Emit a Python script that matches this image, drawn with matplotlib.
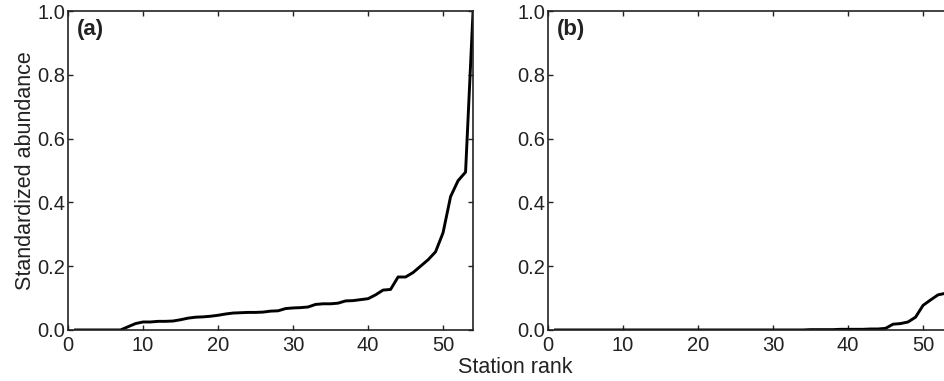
import numpy as np
import matplotlib
matplotlib.use("Agg")
import matplotlib.pyplot as plt

plt.rcParams['font.family'] = ['Liberation Sans', 'DejaVu Sans']

# station rank 1..54, standardized abundance sorted ascending
rank = np.arange(1, 55)
abund_a = [0, 0, 0, 0, 0, 0, 0, 0.01, 0.02, 0.025,
           0.025, 0.027, 0.027, 0.028, 0.032, 0.037, 0.04, 0.041, 0.043, 0.046,
           0.05, 0.053, 0.054, 0.055, 0.055, 0.056, 0.059, 0.06, 0.067, 0.069,
           0.07, 0.072, 0.08, 0.082, 0.082, 0.084, 0.091, 0.092, 0.095, 0.098,
           0.11, 0.125, 0.127, 0.166, 0.166, 0.18, 0.2, 0.22, 0.245, 0.305,
           0.418, 0.468, 0.495, 1.0]
abund_b = [0, 0, 0, 0, 0, 0, 0, 0, 0, 0,
           0, 0, 0, 0, 0, 0, 0, 0, 0, 0,
           0, 0, 0, 0, 0, 0, 0, 0, 0, 0,
           0, 0, 0, 0, 0.001, 0.001, 0.001, 0.001, 0.002, 0.002,
           0.002, 0.002, 0.003, 0.003, 0.005, 0.018, 0.02, 0.025, 0.04, 0.077,
           0.094, 0.11, 0.115, 1.0]
panels = ['(a)', '(b)']

fig = plt.figure(figsize=(9.45, 3.81), dpi=100)
ax_a = fig.add_axes([0.072, 0.134, 0.4286, 0.837])
ax_b = fig.add_axes([0.5799, 0.134, 0.4286, 0.837])

for ax, y, lab in zip([ax_a, ax_b], [abund_a, abund_b], panels):
    ax.plot(rank, y, color='black', lw=2.1, solid_joinstyle='round')
    ax.set_xlim(0, 54)
    ax.set_ylim(0, 1.0)
    ax.set_xticks([0, 10, 20, 30, 40, 50])
    ax.set_yticks([0, 0.2, 0.4, 0.6, 0.8, 1.0])
    ax.set_yticklabels(['0.0', '0.2', '0.4', '0.6', '0.8', '1.0'])
    ax.tick_params(direction='in', top=True, right=True, length=3.5,
                   width=1, labelsize=14.5, colors='#222222')
    ax.tick_params(axis='x', pad=4)
    ax.tick_params(axis='y', pad=2)
    for s in ax.spines.values():
        s.set_linewidth(1.2)
        s.set_color('#222222')
    ax.text(0.022, 0.975, lab, transform=ax.transAxes, fontsize=16,
            fontweight='bold', va='top', ha='left', color='#222222')

ax_a.set_ylabel('Standardized abundance', fontsize=15.5, color='#222222', labelpad=1)
fig.text(0.545, 0.008, 'Station rank', fontsize=15.5, ha='center', va='bottom',
         color='#222222')

fig.savefig('out.png', dpi=100)
